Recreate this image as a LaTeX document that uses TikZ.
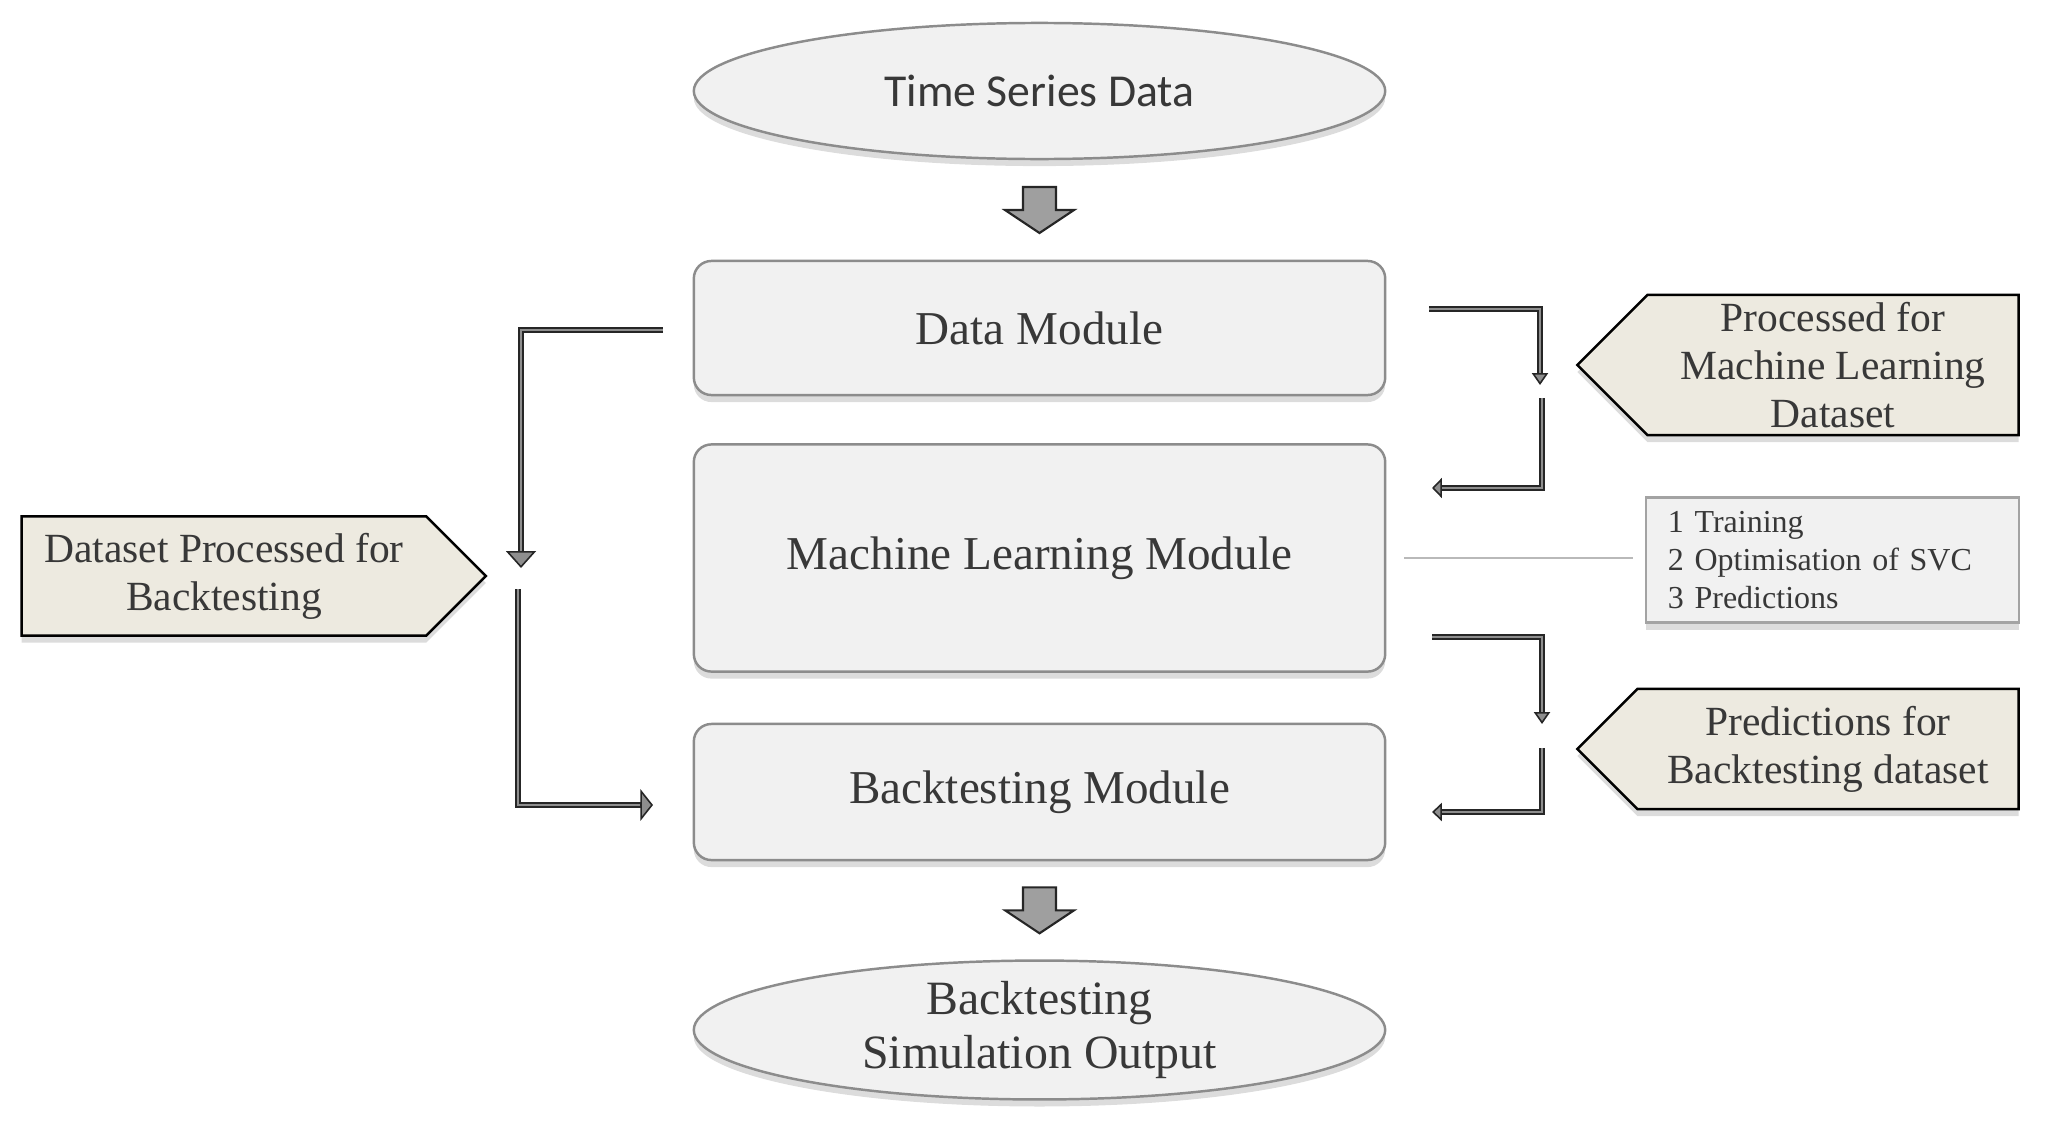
\documentclass[tikz,border=0pt]{standalone}
\usepackage{fontspec}
\setmainfont{Liberation Serif}
\newfontfamily\sansfont{Carlito}
\usetikzlibrary{shapes.geometric,shapes.symbols,shadows,arrows.meta,calc}

\definecolor{boxfill}{HTML}{F1F1F1}
\definecolor{boxline}{HTML}{8C8C8C}
\definecolor{notefill}{HTML}{EDEAE0}
\definecolor{textgray}{HTML}{383838}
\definecolor{conngray}{HTML}{8E8E8E}

\tikzset{
  softshadow/.style={drop shadow={opacity=0.28, shadow xshift=0pt, shadow yshift=-2pt}},
  module/.style={rectangle, rounded corners=5pt, draw=boxline, fill=boxfill, line width=0.7pt,
    minimum width=6.91cm, inner sep=0pt, text=textgray, font=\fontsize{13.4}{16}\selectfont, softshadow},
  terminal/.style={ellipse, draw=boxline, fill=boxfill, line width=0.7pt, minimum width=6.91cm,
    inner sep=0pt, text=textgray, align=center, softshadow},
  note/.style={signal, signal pointer angle=90, draw=black, fill=notefill, line width=0.7pt,
    inner sep=0pt, text=textgray, align=center, font=\fontsize{11.8}{13.7}\selectfont, softshadow},
  infobox/.style={rectangle, draw=boxline!80, fill=boxfill, line width=0.7pt, inner xsep=0.22cm,
    inner ysep=0pt, text width=3.29cm, minimum height=1.25cm, align=left, text=textgray,
    font=\fontsize{9.1}{10.8}\selectfont, softshadow},
  conn/.style 2 args={draw=black!85, line width=1.7pt, line join=miter,
    -{Triangle[length=#1, width=#2, fill=conngray, line width=0.45pt]},
    postaction={draw=conngray, line width=0.8pt, arrows=-, shorten >=#1}},
  blockarrow/.pic={
    \draw[fill=gray!75, draw=black!85, line width=0.6pt]
      (-16.5,-23) -- (16.5,-23) -- (16.5,0) -- (34.5,0) -- (0,23) -- (-34.5,0) -- (-16.5,0) -- cycle;
  }
}

\begin{document}
\begin{tikzpicture}[x=0.01cm, y=-0.01cm]
  \useasboundingbox (0,0) rectangle (2046,1124);

  % Main column
  \node[terminal, minimum height=1.36cm, font=\sansfont\fontsize{13}{16}\selectfont] (tsd) at (1039.5,91) {Time Series Data};
  \node[module, minimum height=1.34cm] (dm) at (1039.5,328) {Data Module};
  \node[module, minimum height=2.27cm] (ml) at (1039.5,558) {Machine Learning Module};
  \node[module, minimum height=1.36cm] (bt) at (1039.5,792) {Backtesting Module};
  \node[terminal, minimum height=1.33cm, font=\fontsize{13.6}{15.6}\selectfont] (out) at (1039.5,1030) {Backtesting\\Simulation Output};

  \pic at ($(tsd.south)!0.5!(dm.north)$) {blockarrow};
  \pic at ($(bt.south)!0.5!(out.north)$) {blockarrow};

  % Side notes
  \node[note, signal to=east, minimum width=4.64cm, minimum height=1.19cm] (bnote) at (224,576) {Dataset Processed for\\Backtesting};
  \node[note, signal to=west, minimum width=4.41cm, minimum height=1.40cm] (mlnote) at (1833,365) {Processed for\\Machine Learning\\Dataset};
  \node[note, signal to=west, minimum width=4.41cm, minimum height=1.20cm] (pnote) at (1828,749) {Predictions for\\Backtesting dataset};
  \node[infobox] (info) at (1832.5,560) {1 Training\\2 Optimisation of SVC\\3 Predictions};

  % Connector ends
  \coordinate (dmL) at (663,330);
  \coordinate (bL) at (521,568);
  \coordinate (bL2) at (518,589);
  \coordinate (btL) at (653,805);
  \coordinate (dmR) at (1429,309);
  \coordinate (mR) at (1540,385);
  \coordinate (mR2) at (1542,398);
  \coordinate (mlR) at (1432,488);
  \coordinate (mlR2) at (1432,637);
  \coordinate (pR) at (1542,724);
  \coordinate (pR2) at (1542,748);
  \coordinate (btR) at (1432,812);

  % Connectors
  \draw[conn={4.8pt}{8.5pt}] (dmL) -| (bL);
  \draw[conn={3.6pt}{9pt}] (bL2) |- (btL);
  \draw[conn={3.4pt}{4.6pt}] (dmR) -| (mR);
  \draw[conn={2.8pt}{5.7pt}] (mR2) |- (mlR);
  \draw[conn={3.4pt}{4.6pt}] (mlR2) -| (pR);
  \draw[conn={2.8pt}{5.2pt}] (pR2) |- (btR);
  \draw[draw=gray!55, line width=0.6pt, shorten <=0.18cm, shorten >=0.12cm] (ml.east) -- (ml.east -| info.west);
\end{tikzpicture}
\end{document}
